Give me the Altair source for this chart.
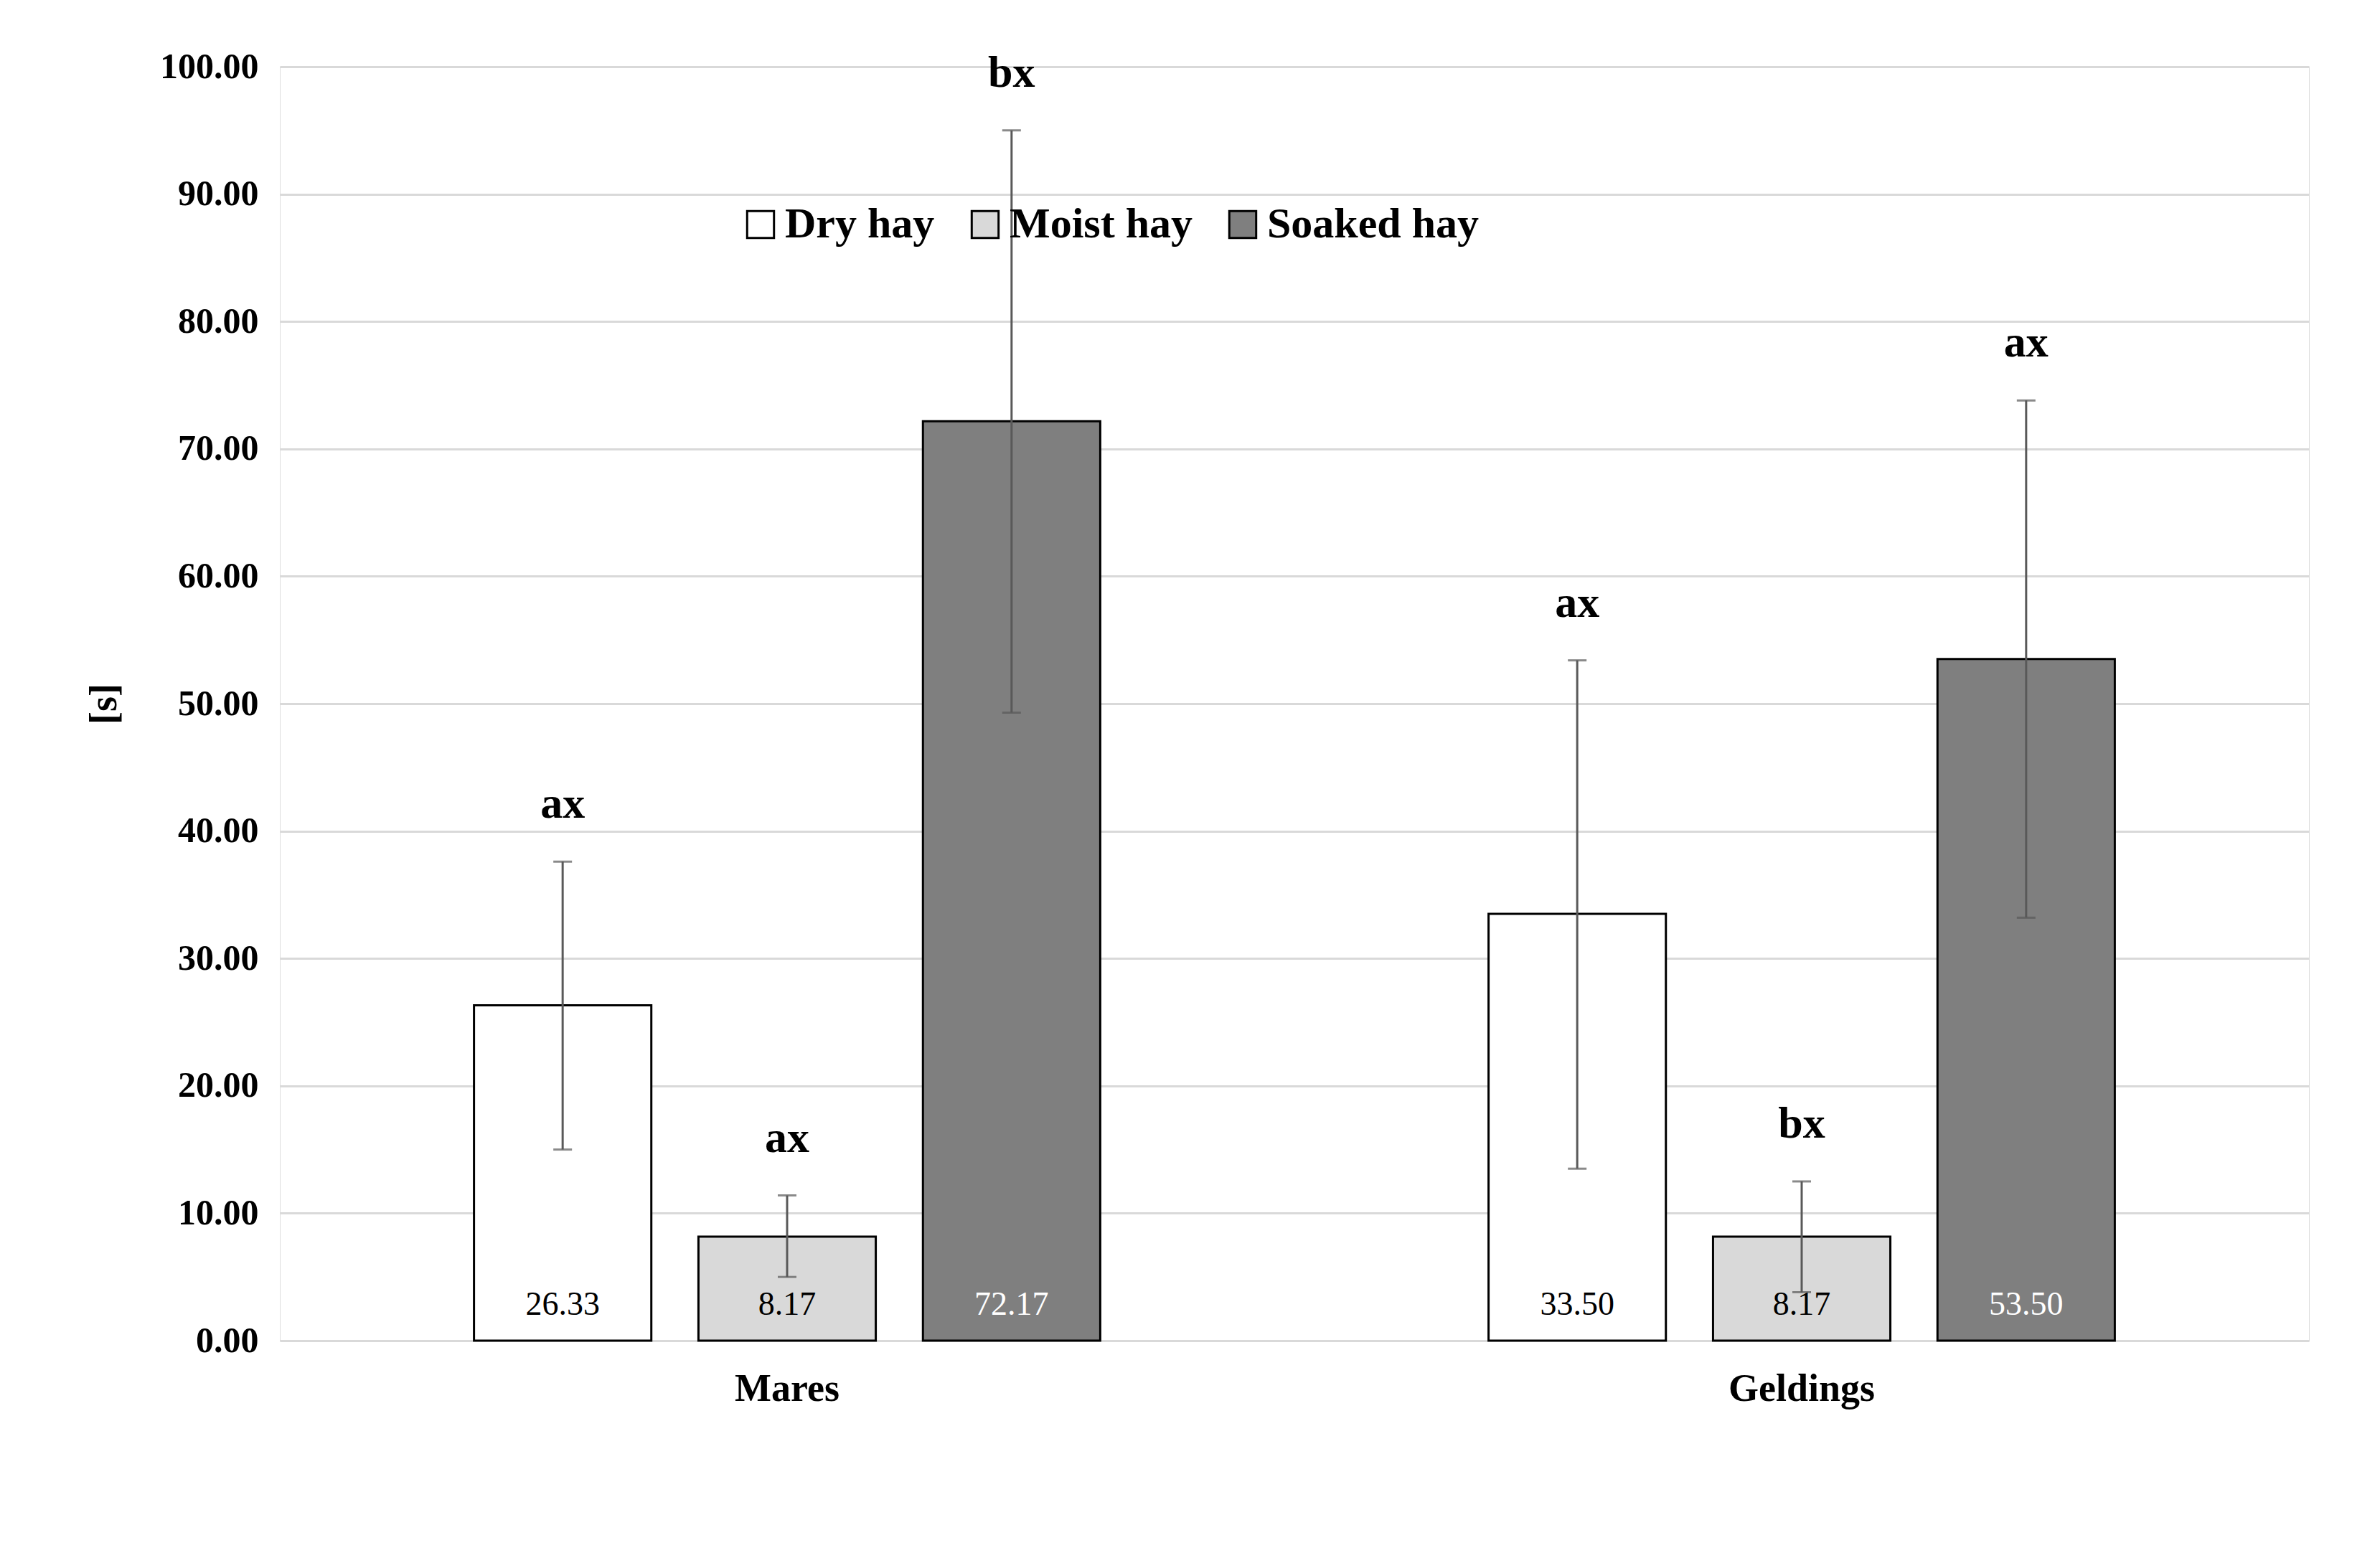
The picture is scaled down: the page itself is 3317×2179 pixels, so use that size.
import altair as alt
import pandas as pd

groups = ["Mares", "Mares", "Mares", "Geldings", "Geldings", "Geldings"]
hay = ["Dry hay", "Moist hay", "Soaked hay"] * 2
means = [26.33, 8.17, 72.17, 33.50, 8.17, 53.50]
err_low = [15.0, 5.0, 49.3, 13.5, 3.8, 33.2]
err_high = [37.6, 11.4, 95.0, 53.4, 12.5, 73.8]
letters = ["ax", "ax", "bx", "ax", "bx", "ax"]
label_colors = ["black", "black", "white", "black", "black", "white"]

df = pd.DataFrame({
    "group": groups, "hay": hay, "mean": means,
    "lo": err_low, "hi": err_high, "letter": letters, "lc": label_colors,
})
df["label"] = df["mean"].map(lambda v: f"{v:.2f}")
df["letter_y"] = df["hi"] + 4.5
df["text_y"] = 2.8

FONT = "Liberation Serif"
order = ["Mares", "Geldings"]
hay_order = ["Dry hay", "Moist hay", "Soaked hay"]

x = alt.X("group:N", sort=order, title=None,
          scale=alt.Scale(paddingInner=0, paddingOuter=0),
          axis=alt.Axis(labelAngle=0, labelFontSize=54, labelFontWeight="bold",
                        labelPadding=40, domainColor="#d9d9d9", ticks=False,
                        labelColor="black", labelFont=FONT, labelLimit=0))
xo = alt.XOffset("hay:N", sort=hay_order,
                 scale=alt.Scale(paddingInner=0.21, paddingOuter=0.865))
y_scale = alt.Scale(domain=[0, 100])

base = alt.Chart(df)

bars = base.mark_bar(stroke="black", strokeWidth=3).encode(
    x=x, xOffset=xo,
    y=alt.Y("mean:Q", scale=y_scale, title="[s]",
            axis=alt.Axis(values=list(range(0, 101, 10)), format=".2f",
                          labelFontSize=50, labelFontWeight="bold", labelFont=FONT,
                          labelColor="black", titleFontSize=54, titleFont=FONT,
                          titleColor="black", titlePadding=50,
                          domain=False, ticks=False, labelPadding=30,
                          gridColor="#d9d9d9", gridWidth=3)),
    fill=alt.Fill("hay:N", sort=hay_order,
                  scale=alt.Scale(domain=hay_order, range=["white", "#d9d9d9", "#7f7f7f"]),
                  legend=alt.Legend(orient="none", legendX=640, legendY=190,
                                    direction="horizontal", title=None, symbolType="square",
                                    symbolSize=1400, symbolStrokeColor="black",
                                    symbolStrokeWidth=3, labelFontSize=60,
                                    labelFontWeight="bold", labelFont=FONT, labelLimit=0,
                                    labelColor="black", columnPadding=40)),
)

rules = base.mark_rule(color="#595959", strokeWidth=3).encode(
    x=x, xOffset=xo, y="lo:Q", y2="hi:Q")
cap_lo = base.mark_tick(color="#595959", thickness=3, size=26, orient="horizontal").encode(
    x=x, xOffset=xo, y="lo:Q")
cap_hi = base.mark_tick(color="#595959", thickness=3, size=26, orient="horizontal").encode(
    x=x, xOffset=xo, y="hi:Q")

values = base.mark_text(fontSize=46, font=FONT, baseline="middle").encode(
    x=x, xOffset=xo, y="text_y:Q", text="label:N",
    color=alt.Color("lc:N", scale=None))
letter_marks = base.mark_text(fontSize=62, font=FONT, fontWeight="bold",
                              baseline="middle", color="black").encode(
    x=x, xOffset=xo, y="letter_y:Q", text="letter:N")

chart = alt.layer(bars, rules, cap_lo, cap_hi, values, letter_marks).properties(
    width=2828, height=1776
).configure_view(stroke=None).configure(
    background="white", padding={"left": 110, "top": 60, "right": 40, "bottom": 20})

chart.save("out.html", embed_options={"renderer": "svg", "actions": False})
